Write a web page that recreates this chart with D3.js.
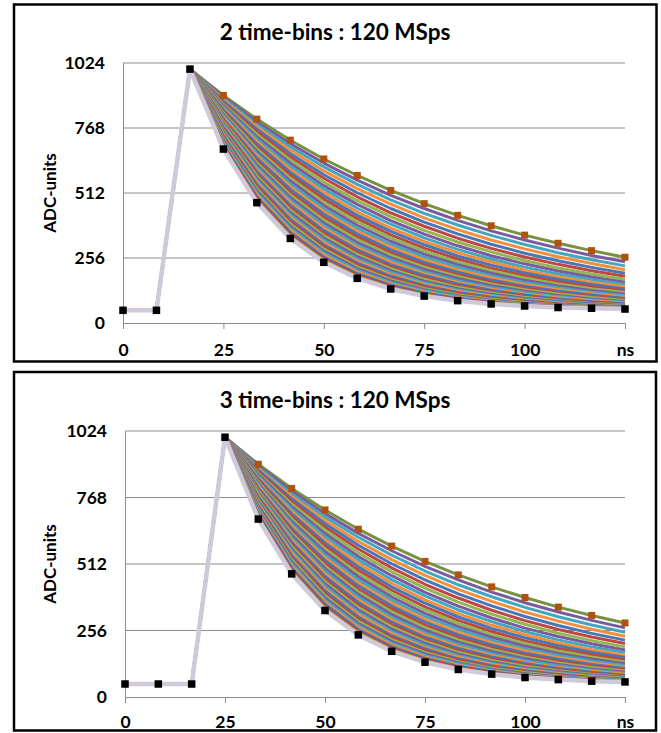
<!DOCTYPE html>
<html>
<head>
<meta charset="utf-8">
<script src="https://cdn.jsdelivr.net/npm/d3@7"></script>
<style>
  body { margin: 0; background: #fff; }
  text { font-family: Lato, "Open Sans", sans-serif; font-weight: bold; fill: #000; }
</style>
</head>
<body>
<script>
// sample times (120 MSps -> 8.33 ns per bin)
var timeNs = [0, 8.33, 16.67, 25, 33.33, 41.67, 50, 58.33, 66.67, 75, 83.33, 91.67, 100, 108.33, 116.67, 125];
var xTicks = [0, 25, 50, 75, 100, 125];
var xTickLabels = ["0", "25", "50", "75", "100", "ns"];
var yTicks = [0, 256, 512, 768, 1024];
var titles = ["2 time-bins : 120 MSps", "3 time-bins : 120 MSps"];

// pedestal before the pulse, and the pulse peak
var pedestalTop = [50, 50];
var pedestalBottom = [50, 50, 50];
var peakValue = 1000;

// tails after the peak, fastest decay first, slowest last (ADC-units)
var decaySeries = [
    [685, 474, 333, 239, 176, 134, 106, 88, 75, 67, 61, 58, 55],
    [690, 482, 341, 246, 182, 139, 110, 90, 77, 68, 62, 58, 56],
    [696, 489, 349, 253, 188, 144, 114, 93, 80, 70, 64, 59, 56],
    [702, 497, 357, 260, 194, 149, 118, 97, 82, 72, 65, 60, 57],
    [707, 505, 365, 268, 201, 154, 122, 100, 85, 74, 67, 61, 58],
    [713, 513, 373, 276, 207, 160, 127, 104, 87, 76, 68, 63, 59],
    [719, 521, 381, 283, 214, 166, 131, 107, 90, 78, 70, 64, 60],
    [725, 529, 390, 291, 221, 172, 136, 111, 94, 81, 72, 66, 61],
    [730, 537, 399, 300, 229, 178, 142, 116, 97, 84, 74, 67, 62],
    [736, 545, 408, 308, 236, 185, 147, 120, 101, 87, 76, 69, 64],
    [742, 554, 417, 317, 244, 191, 153, 125, 105, 90, 79, 71, 65],
    [747, 562, 426, 326, 252, 199, 159, 130, 109, 93, 82, 73, 67],
    [753, 570, 435, 335, 261, 206, 165, 135, 113, 97, 85, 76, 69],
    [759, 579, 444, 344, 270, 214, 172, 141, 118, 101, 88, 78, 71],
    [764, 587, 454, 354, 279, 222, 179, 147, 123, 105, 91, 81, 73],
    [770, 596, 464, 364, 288, 230, 187, 154, 129, 110, 95, 84, 76],
    [776, 604, 474, 374, 297, 239, 194, 160, 134, 114, 99, 88, 79],
    [782, 613, 484, 384, 307, 248, 202, 167, 140, 120, 104, 91, 82],
    [787, 622, 494, 394, 317, 257, 211, 175, 147, 125, 108, 95, 85],
    [793, 631, 504, 405, 328, 267, 220, 183, 154, 131, 114, 100, 89],
    [799, 640, 515, 416, 339, 277, 229, 191, 161, 138, 119, 104, 93],
    [804, 649, 526, 428, 350, 288, 239, 200, 169, 145, 125, 110, 97],
    [810, 658, 536, 439, 361, 299, 249, 209, 178, 152, 132, 115, 102],
    [816, 667, 547, 451, 373, 310, 260, 219, 186, 160, 139, 121, 108],
    [821, 676, 559, 463, 385, 322, 271, 230, 196, 168, 146, 128, 113],
    [827, 686, 570, 475, 398, 335, 283, 240, 206, 177, 154, 135, 120],
    [833, 695, 582, 488, 411, 347, 295, 252, 216, 187, 163, 143, 127],
    [839, 705, 593, 501, 424, 361, 308, 264, 228, 197, 172, 152, 134],
    [844, 714, 605, 514, 438, 374, 321, 277, 240, 208, 182, 161, 143],
    [850, 724, 617, 528, 452, 389, 335, 290, 252, 220, 193, 171, 152],
    [856, 733, 629, 541, 467, 403, 350, 304, 265, 233, 205, 181, 161],
    [861, 743, 642, 555, 482, 419, 365, 319, 280, 246, 217, 193, 172],
    [867, 753, 654, 570, 497, 434, 381, 334, 294, 260, 231, 206, 184],
    [873, 763, 667, 584, 513, 451, 397, 351, 310, 275, 245, 219, 196],
    [878, 772, 680, 599, 529, 468, 414, 368, 327, 292, 261, 234, 210],
    [884, 782, 693, 615, 546, 485, 432, 386, 345, 309, 277, 249, 225],
    [890, 792, 706, 630, 563, 503, 451, 404, 363, 327, 295, 266, 241],
    [896, 803, 720, 646, 581, 522, 470, 424, 383, 346, 314, 285, 259]
];

// excel-like palette
var palette = ["#4678b8", "#bd4744", "#94b64f", "#7a5c9e", "#42a6c2", "#f58e3a"];

var W = 661, H = 733;
var svg = d3.select("body").append("svg")
    .attr("width", W)
    .attr("height", H);

var panels = [
    { box: [14, 4.5, 642.5, 357], plot: [123, 625, 63, 323], titleY: 40, labelY: 356,
      pedestal: pedestalTop, tailLength: 13 },
    { box: [14, 372, 642, 358.5], plot: [125, 625, 431, 697], titleY: 408, labelY: 728,
      pedestal: pedestalBottom, tailLength: 12 }
];

panels.forEach(function (p, pi) {
    var g = svg.append("g");

    g.append("rect")
        .attr("x", p.box[0]).attr("y", p.box[1])
        .attr("width", p.box[2]).attr("height", p.box[3])
        .attr("fill", "#fff")
        .attr("stroke", "#000")
        .attr("stroke-width", 2.5);

    var x = d3.scaleLinear().domain([0, 125]).range([p.plot[0], p.plot[1]]);
    var y = d3.scaleLinear().domain([0, 1024]).range([p.plot[3], p.plot[2]]);

    // title
    g.append("text")
        .attr("x", 335).attr("y", p.titleY)
        .attr("text-anchor", "middle")
        .style("font-size", "22.5px")
        .text(titles[pi]);

    // gridlines
    g.selectAll(".grid")
        .data(yTicks.filter(function (d) { return d > 0; }))
        .enter().append("line")
        .attr("x1", x(0)).attr("x2", x(125))
        .attr("y1", function (d) { return y(d); })
        .attr("y2", function (d) { return y(d); })
        .attr("stroke", "#8c8c8c")
        .attr("stroke-width", 1);

    // y axis (labels only, plus the axis line)
    var yAxis = g.append("g")
        .attr("transform", "translate(" + x(0) + ",0)")
        .call(d3.axisLeft(y).tickValues(yTicks).tickSize(0).tickPadding(18)
            .tickFormat(d3.format("d")));
    yAxis.select(".domain").attr("stroke", "#8c8c8c");
    yAxis.selectAll("text")
        .style("font-size", "17.5px")
        .attr("font-family", null);

    // x axis
    var xAxis = g.append("g")
        .attr("transform", "translate(0," + y(0) + ")")
        .call(d3.axisBottom(x).tickValues(xTicks).tickSize(6).tickSizeOuter(0)
            .tickFormat(function (d, i) { return xTickLabels[i]; }));
    xAxis.select(".domain").attr("stroke", "#8c8c8c");
    xAxis.selectAll(".tick line").attr("stroke", "#8c8c8c");
    xAxis.selectAll("text")
        .attr("font-family", null)
        .style("font-size", "17.5px")
        .attr("dy", null)
        .attr("y", p.labelY - y(0));

    // y title
    g.append("text")
        .attr("transform", "translate(56," + ((p.plot[2] + p.plot[3]) / 2) + ") rotate(-90)")
        .attr("text-anchor", "middle")
        .style("font-size", "17px")
        .text("ADC-units");

    // build the series for this panel
    var series = decaySeries.map(function (tail) {
        var vals = p.pedestal.concat([peakValue], tail.slice(0, p.tailLength));
        return vals.map(function (v, i) { return { t: timeNs[i], v: v }; });
    });

    var line = d3.line()
        .x(function (d) { return x(d.t); })
        .y(function (d) { return y(d.v); });

    var n = series.length;
    // slowest (top) first, fastest (bottom) last
    var order = d3.range(n - 1, -1, -1);
    order.forEach(function (k) {
        var fromTop = n - 1 - k;
        var col = k === 0 ? "#d0c9d9" : (fromTop === 0 ? "#779240" : palette[(2 + fromTop) % 6]);
        g.append("path")
            .datum(series[k])
            .attr("d", line)
            .attr("fill", "none")
            .attr("stroke", col)
            .attr("stroke-width", k === 0 ? 4.5 : 3)
            .attr("stroke-linejoin", "round");
    });

    // markers on the slowest tail (orange) and the fastest one (black)
    g.selectAll(".mk-slow")
        .data(series[n - 1].slice(p.pedestal.length + 1))
        .enter().append("rect")
        .attr("x", function (d) { return x(d.t) - 3.5; })
        .attr("y", function (d) { return y(d.v) - 3.5; })
        .attr("width", 7).attr("height", 7)
        .attr("fill", "#b0520f");

    g.selectAll(".mk-fast")
        .data(series[0])
        .enter().append("rect")
        .attr("x", function (d) { return x(d.t) - 3.75; })
        .attr("y", function (d) { return y(d.v) - 3.75; })
        .attr("width", 7.5).attr("height", 7.5)
        .attr("fill", "#000");
});
</script>
</body>
</html>
